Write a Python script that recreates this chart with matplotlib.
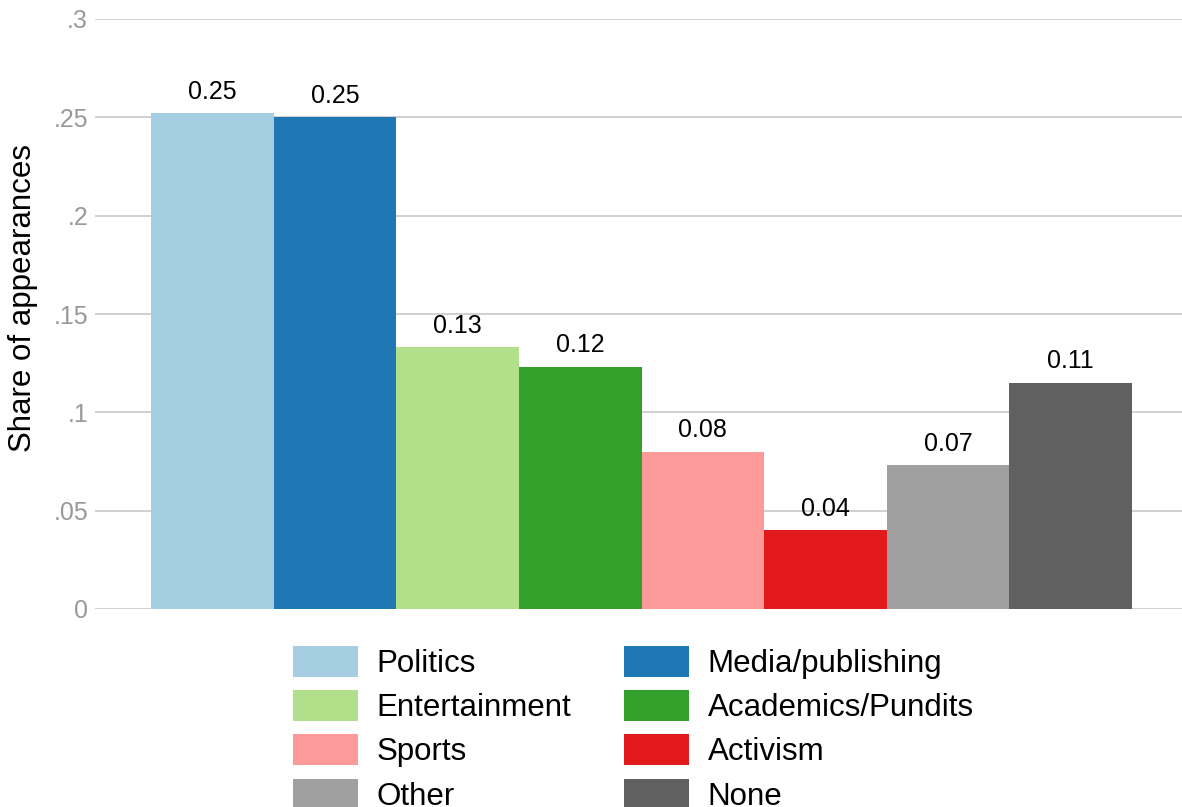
import matplotlib.pyplot as plt
from matplotlib.patches import Patch
import numpy as np

plt.rcParams['font.family'] = ['Liberation Sans', 'DejaVu Sans']

# Dades: quota d'aparicions per categoria
categories = ['Politics', 'Media/publishing', 'Entertainment', 'Academics/Pundits',
              'Sports', 'Activism', 'Other', 'None']
shares = [0.252, 0.250, 0.133, 0.123, 0.080, 0.040, 0.073, 0.115]
bar_labels = ['0.25', '0.25', '0.13', '0.12', '0.08', '0.04', '0.07', '0.11']
yticks = [0, 0.05, 0.1, 0.15, 0.2, 0.25, 0.3]
ytick_labels = ['0', '.05', '.1', '.15', '.2', '.25', '.3']

colors = ['#a6cee3', '#1f78b4', '#b2df8a', '#33a02c',
          '#fb9a99', '#e31a1c', '#a0a0a0', '#606060']

fig = plt.figure(figsize=(11.82, 8.07), dpi=100)
ax = fig.add_axes([95 / 1182, 1 - 609 / 807, 1 - 95 / 1182, (609 - 19) / 807])

x = np.arange(len(categories))
ax.bar(x, shares, width=1.0, color=colors, edgecolor='none', zorder=3)

# Etiquetes de valor sobre cada barra
for xi, val, lab in zip(x, shares, bar_labels):
    ax.annotate(lab, (xi, val), textcoords='offset points', xytext=(0, 7),
                ha='center', va='bottom', fontsize=18, color='black')

ax.set_xlim(-0.957, 7.908)
ax.set_ylim(0, 0.3)
ax.set_xticks([])
ax.set_yticks(yticks)
ax.set_yticklabels(ytick_labels)
ax.tick_params(axis='y', length=0, pad=5, labelsize=18, labelcolor='#999999')
ax.grid(axis='y', color='#c8c8c8', lw=1.2, zorder=0)
for s in ax.spines.values():
    s.set_visible(False)
ax.set_ylabel('Share of appearances', fontsize=22.5)
ax.yaxis.set_label_coords(-0.052, 0.527)

# Llegenda en dues columnes (ordre per files)
order = [0, 2, 4, 6, 1, 3, 5, 7]
handles = [Patch(facecolor=colors[i], edgecolor='none') for i in order]
labels = [categories[i] for i in order]
fig.legend(handles, labels, ncol=2, loc='upper center',
           bbox_to_anchor=(0.536, 1 - 630 / 807), frameon=False, fontsize=22.5,
           handlelength=2.08, handleheight=1.15, handletextpad=0.58,
           labelspacing=0.36, columnspacing=1.7, borderpad=0)

plt.savefig('out.png', dpi=100, facecolor='white')
